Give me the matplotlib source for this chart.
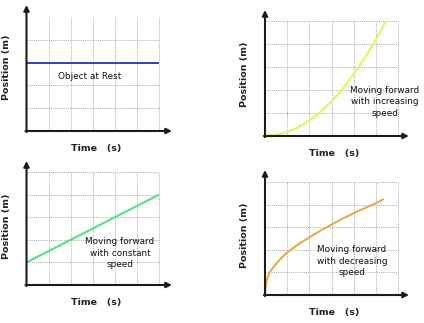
import matplotlib
matplotlib.use("Agg")
import matplotlib.pyplot as plt

W, H = 424, 323

# ---- data ----
rest_t = [0, 6]
rest_pos = [3, 3]

inc_t = [0, 0.5, 1, 1.5, 2, 2.5, 3, 3.5, 4, 4.5, 5, 5.45]
inc_pos = [0, 0.05, 0.17, 0.38, 0.67, 1.05, 1.5, 2.05, 2.7, 3.4, 4.2, 5.0]

const_t = [0, 6]
const_pos = [1, 4]

dec_t = [0, 0.02, 0.06, 0.12, 0.2, 0.35, 0.5, 0.75, 1, 1.5, 2, 2.5, 3, 3.5, 4, 4.5, 5, 5.35]
dec_pos = [0, 0.3, 0.55, 0.78, 0.98, 1.2, 1.38, 1.65, 1.88, 2.25, 2.55, 2.85, 3.12, 3.38, 3.62, 3.85, 4.06, 4.25]

captions = ["Object at Rest",
            "Moving forward\nwith increasing\nspeed",
            "Moving forward\nwith constant\nspeed",
            "Moving forward\nwith decreasing\nspeed"]
xlabel = "Time   (s)"
ylabel = "Position (m)"

# ---- layout (pixels) ----
panels = [
    dict(ox=26.5, oy=131, ux=22.1, uy=22.8, xend=172, ytop=5, ngrid_h=4,
         x=rest_t, y=rest_pos, color="#3a3acc", lw=1.4,
         cap=captions[0], cap_px=(90, 76), xl_px=(96, 149), yl_px=(7, 67)),
    dict(ox=265, oy=136, ux=22.2, uy=23.0, xend=409, ytop=10, ngrid_h=5,
         x=inc_t, y=inc_pos, color="#e8f266", lw=1.6,
         cap=captions[1], cap_px=(385, 102), xl_px=(334, 154), yl_px=(245, 74)),
    dict(ox=26.5, oy=285, ux=22.1, uy=22.6, xend=172, ytop=161, ngrid_h=5,
         x=const_t, y=const_pos, color="#5ce08e", lw=1.6,
         cap=captions[2], cap_px=(120, 253), xl_px=(96, 302), yl_px=(7, 226)),
    dict(ox=265, oy=295, ux=22.2, uy=22.6, xend=409, ytop=170, ngrid_h=5,
         x=dec_t, y=dec_pos, color="#e8aa4c", lw=1.5,
         cap=captions[3], cap_px=(352, 261), xl_px=(334, 313), yl_px=(245, 235)),
]

fig = plt.figure(figsize=(W / 100, H / 100), dpi=100)
fig.patch.set_facecolor("white")

grid_kw = dict(color="#a8a8a8", lw=0.7, linestyle=(0, (1, 1.2)), zorder=1)
axis_col = "#1c1c1c"

for p in panels:
    wpx = p["xend"] - p["ox"]
    hpx = p["oy"] - p["ytop"]
    ax = fig.add_axes([p["ox"] / W, 1 - p["oy"] / H, wpx / W, hpx / H])
    xmax = wpx / p["ux"]
    ymax = hpx / p["uy"]
    ax.set_xlim(0, xmax)
    ax.set_ylim(0, ymax)
    ax.axis("off")
    for t in range(1, 7):
        ax.plot([t, t], [0, 5], **grid_kw)
    for yv in range(1, p["ngrid_h"] + 1):
        ax.plot([0, 6], [yv, yv], **grid_kw)
    ax.plot(p["x"], p["y"], color=p["color"], lw=p["lw"], zorder=3,
            solid_capstyle="butt", solid_joinstyle="round")
    ax.annotate("", xy=(xmax, 0), xytext=(-0.05, 0),
                arrowprops=dict(arrowstyle="-|>", lw=1.5, color=axis_col,
                                mutation_scale=8, shrinkA=0, shrinkB=0),
                annotation_clip=False, zorder=4)
    ax.annotate("", xy=(0, ymax), xytext=(0, -0.05),
                arrowprops=dict(arrowstyle="-|>", lw=1.5, color=axis_col,
                                mutation_scale=8, shrinkA=0, shrinkB=0),
                annotation_clip=False, zorder=4)
    cx, cy = p["cap_px"]
    fig.text(cx / W, 1 - cy / H, p["cap"], ha="center", va="center",
             fontsize=6.4, color="#111111", linespacing=1.3)
    lx, ly = p["xl_px"]
    fig.text(lx / W, 1 - ly / H, xlabel, ha="center", va="center",
             fontsize=6.8, fontweight="bold", color="#222222")
    yx, yy = p["yl_px"]
    fig.text(yx / W, 1 - yy / H, ylabel, ha="center", va="center",
             rotation=90, fontsize=6.8, fontweight="bold", color="#222222")

fig.savefig("out.png", dpi=100, facecolor="white")
